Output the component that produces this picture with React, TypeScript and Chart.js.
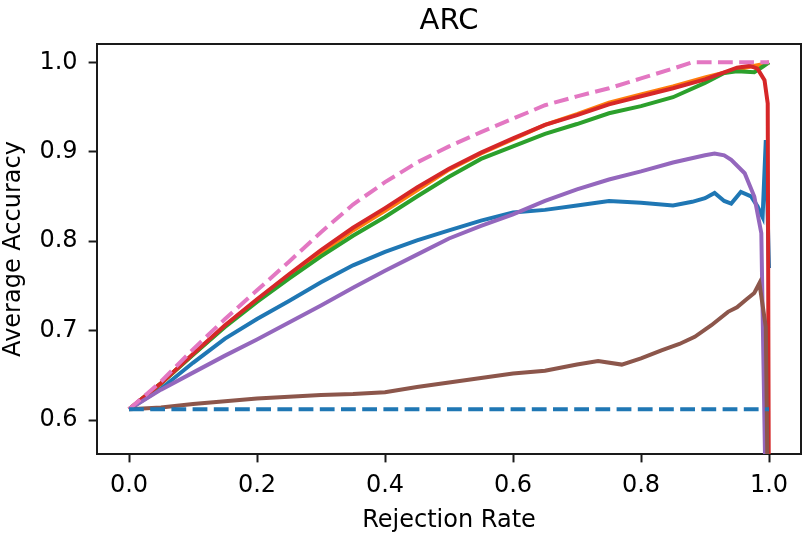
import React, { useEffect, useRef } from 'react';
import { Chart, registerables } from 'chart.js';
Chart.register(...registerables);

const xTicks = [0, 0.2, 0.4, 0.6, 0.8, 1.0];
const yTicks = [0.6, 0.7, 0.8, 0.9, 1.0];

const blueX = [0, 0.05, 0.1, 0.15, 0.2, 0.25, 0.3, 0.35, 0.4, 0.45, 0.5, 0.55, 0.6, 0.65, 0.7, 0.75, 0.8, 0.85, 0.88, 0.9, 0.915, 0.93, 0.941, 0.956, 0.972, 0.982, 0.99, 0.995, 1.0];
const blueY = [0.612, 0.635, 0.664, 0.691, 0.713, 0.733, 0.754, 0.773, 0.788, 0.801, 0.812, 0.823, 0.832, 0.835, 0.840, 0.845, 0.843, 0.840, 0.844, 0.848, 0.854, 0.845, 0.842, 0.855, 0.850, 0.839, 0.827, 0.913, 0.77];

const orangeX = [0, 0.05, 0.1, 0.15, 0.2, 0.25, 0.3, 0.35, 0.4, 0.45, 0.5, 0.55, 0.6, 0.65, 0.7, 0.75, 0.8, 0.85, 0.9, 0.95, 0.97, 0.99, 1.0];
const orangeY = [0.612, 0.641, 0.673, 0.705, 0.734, 0.761, 0.787, 0.812, 0.834, 0.857, 0.880, 0.898, 0.914, 0.930, 0.942, 0.955, 0.964, 0.973, 0.983, 0.992, 0.995, 0.998, 1.0];

const greenX = [0, 0.05, 0.1, 0.15, 0.2, 0.25, 0.3, 0.35, 0.4, 0.45, 0.5, 0.55, 0.6, 0.65, 0.7, 0.75, 0.8, 0.85, 0.9, 0.93, 0.95, 0.977, 0.99, 1.0];
const greenY = [0.612, 0.641, 0.673, 0.704, 0.732, 0.758, 0.783, 0.806, 0.827, 0.850, 0.872, 0.892, 0.906, 0.920, 0.931, 0.943, 0.951, 0.961, 0.977, 0.988, 0.990, 0.989, 0.995, 1.0];

const redX = [0, 0.05, 0.1, 0.15, 0.2, 0.25, 0.3, 0.35, 0.4, 0.45, 0.5, 0.55, 0.6, 0.65, 0.7, 0.75, 0.8, 0.85, 0.9, 0.95, 0.97, 0.982, 0.993, 0.998, 1.0];
const redY = [0.612, 0.641, 0.674, 0.706, 0.735, 0.763, 0.790, 0.815, 0.837, 0.860, 0.881, 0.899, 0.915, 0.930, 0.941, 0.953, 0.962, 0.971, 0.981, 0.994, 0.996, 0.993, 0.980, 0.954, 0.45];

const purpleX = [0, 0.05, 0.1, 0.15, 0.2, 0.25, 0.3, 0.35, 0.4, 0.45, 0.5, 0.55, 0.6, 0.65, 0.7, 0.75, 0.8, 0.85, 0.9, 0.915, 0.93, 0.941, 0.962, 0.977, 0.988, 0.994, 1.0];
const purpleY = [0.612, 0.634, 0.653, 0.672, 0.690, 0.709, 0.728, 0.748, 0.767, 0.785, 0.803, 0.817, 0.830, 0.845, 0.858, 0.869, 0.878, 0.888, 0.896, 0.898, 0.896, 0.891, 0.876, 0.850, 0.809, 0.55, 0.40];

const brownX = [0, 0.05, 0.1, 0.15, 0.2, 0.25, 0.3, 0.35, 0.4, 0.45, 0.5, 0.55, 0.6, 0.65, 0.7, 0.733, 0.77, 0.8, 0.832, 0.86, 0.884, 0.91, 0.936, 0.95, 0.965, 0.977, 0.985, 0.995, 1.0];
const brownY = [0.612, 0.614, 0.618, 0.621, 0.624, 0.626, 0.628, 0.629, 0.631, 0.637, 0.642, 0.647, 0.652, 0.655, 0.662, 0.666, 0.662, 0.669, 0.678, 0.685, 0.693, 0.706, 0.721, 0.726, 0.735, 0.742, 0.753, 0.704, 0.40];

const pinkX = [0, 0.05, 0.1, 0.15, 0.2, 0.25, 0.3, 0.35, 0.4, 0.45, 0.5, 0.55, 0.6, 0.65, 0.7, 0.75, 0.8, 0.85, 0.88, 1.0];
const pinkY = [0.612, 0.643, 0.679, 0.713, 0.745, 0.777, 0.810, 0.841, 0.866, 0.888, 0.906, 0.922, 0.937, 0.952, 0.962, 0.971, 0.982, 0.993, 1.0, 1.0];

const baseX = [0, 1.0];
const baseY = [0.612, 0.612];

const FONT = "'DejaVu Sans', sans-serif";

const pts = (xs: number[], ys: number[]) => xs.map((x, i) => ({ x, y: ys[i] }));

export default function App() {
  const ref = useRef<HTMLCanvasElement | null>(null);
  useEffect(() => {
    if (!ref.current) return;
    const dash = [14.8, 6.4];
    const series = [
      { d: pts(blueX, blueY), c: '#1f77b4', dash: [] as number[] },
      { d: pts(orangeX, orangeY), c: '#ff7f0e', dash: [] },
      { d: pts(greenX, greenY), c: '#2ca02c', dash: [] },
      { d: pts(redX, redY), c: '#d62728', dash: [] },
      { d: pts(purpleX, purpleY), c: '#9467bd', dash: [] },
      { d: pts(brownX, brownY), c: '#8c564b', dash: [] },
      { d: pts(pinkX, pinkY), c: '#e377c2', dash },
      { d: pts(baseX, baseY), c: '#1f77b4', dash },
    ];
    const n = series.length;
    const framePlugin = {
      id: 'frame',
      afterDraw(chart: any) {
        const { ctx, chartArea } = chart;
        ctx.save();
        ctx.strokeStyle = '#1a1a1a';
        ctx.lineWidth = 2;
        ctx.beginPath();
        ctx.moveTo(chartArea.left, chartArea.top);
        ctx.lineTo(chartArea.right, chartArea.top);
        ctx.lineTo(chartArea.right, chartArea.bottom);
        ctx.stroke();
        ctx.fillStyle = '#000';
        ctx.font = `29px ${FONT}`;
        ctx.textAlign = 'center';
        ctx.textBaseline = 'alphabetic';
        ctx.fillText('ARC', (chartArea.left + chartArea.right) / 2, 28.5);
        ctx.restore();
      },
    };
    const chart = new Chart(ref.current, {
      type: 'line',
      data: {
        datasets: series.map((s, i) => ({
          data: s.d,
          borderColor: s.c,
          backgroundColor: s.c,
          borderWidth: 4,
          borderDash: s.dash,
          pointRadius: 0,
          tension: 0,
          fill: false,
          order: n - i,
        })),
      },
      options: {
        responsive: false,
        animation: false,
        events: [],
        layout: { padding: { top: 44, right: 2, left: 0, bottom: 0 } },
        plugins: { legend: { display: false }, tooltip: { enabled: false }, title: { display: false } },
        scales: {
          x: {
            type: 'linear',
            min: -0.05,
            max: 1.05,
            afterFit: (s: any) => { s.height = 79; },
            afterBuildTicks: (s: any) => { s.ticks = xTicks.map((v) => ({ value: v })); },
            grid: { display: true, drawOnChartArea: false, drawTicks: true, tickLength: 8.4, tickWidth: 2, tickColor: '#1a1a1a' },
            border: { display: true, color: '#1a1a1a', width: 2 },
            ticks: {
              color: '#000',
              font: { family: FONT, size: 24 },
              padding: 9,
              maxRotation: 0,
              autoSkip: false,
              callback: (v: any) => Number(v).toFixed(1),
            },
            title: { display: true, text: 'Rejection Rate', color: '#000', font: { family: FONT, size: 24, lineHeight: 1.0 }, padding: { top: 0, bottom: 0 } },
          },
          y: {
            type: 'linear',
            min: 0.562,
            max: 1.0205,
            afterFit: (s: any) => { s.width = 97; },
            afterBuildTicks: (s: any) => { s.ticks = yTicks.map((v) => ({ value: v })); },
            grid: { display: true, drawOnChartArea: false, drawTicks: true, tickLength: 8.4, tickWidth: 2, tickColor: '#1a1a1a' },
            border: { display: true, color: '#1a1a1a', width: 2 },
            ticks: {
              color: '#000',
              font: { family: FONT, size: 24 },
              padding: 11,
              autoSkip: false,
              callback: (v: any) => Number(v).toFixed(1),
            },
            title: { display: true, text: 'Average Accuracy', color: '#000', font: { family: FONT, size: 24, lineHeight: 1.15 }, padding: { top: 0, bottom: 0 } },
          },
        },
      },
      plugins: [framePlugin],
    } as any);
    return () => chart.destroy();
  }, []);
  return (
    <div style={{ position: 'fixed', left: 0, top: 0, width: 803, height: 533, background: '#fff' }}>
      <canvas ref={ref} width={803} height={533} style={{ display: 'block' }} />
    </div>
  );
}
